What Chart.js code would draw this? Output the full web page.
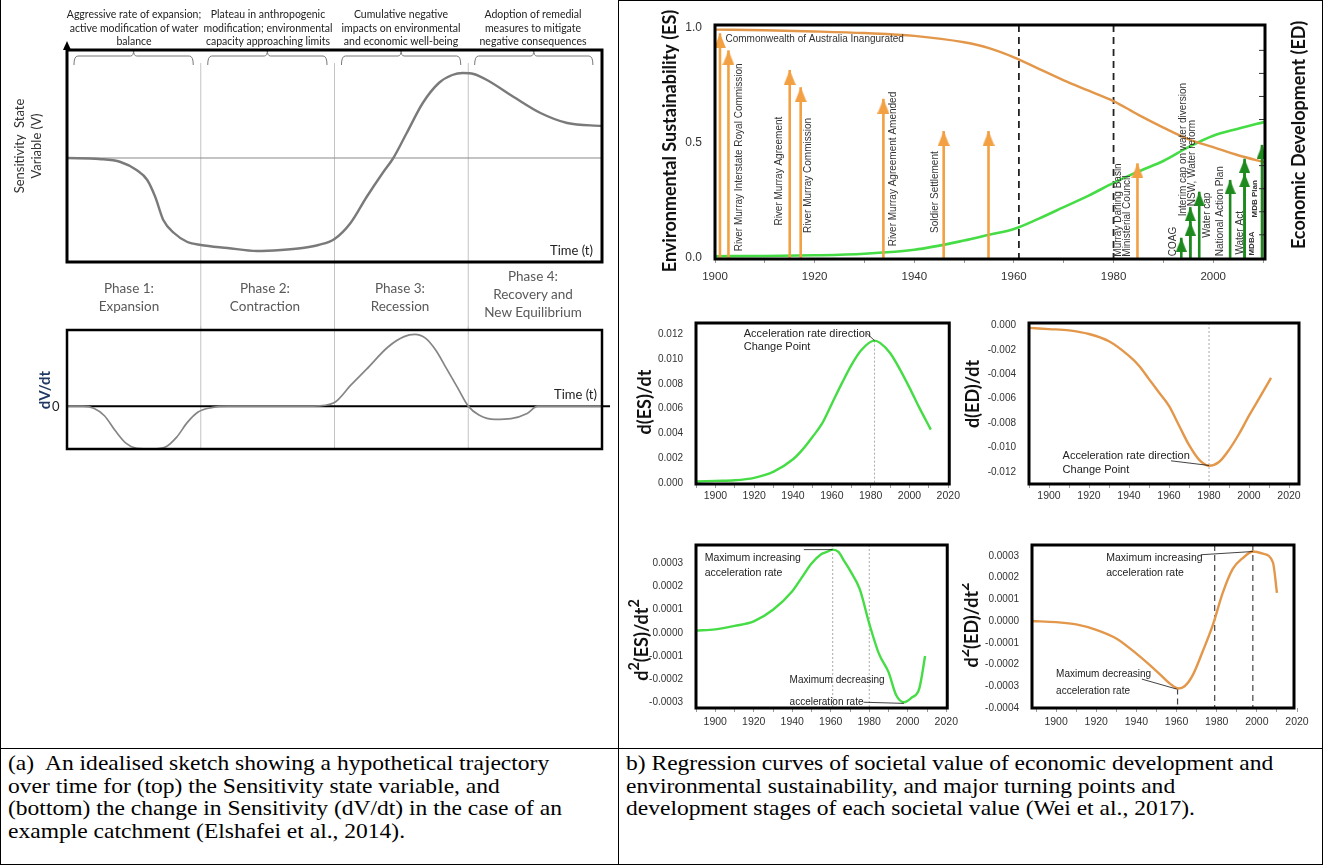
<!DOCTYPE html>
<html>
<head>
<meta charset="utf-8">
<script src="https://cdn.jsdelivr.net/npm/chart.js@4.4.1/dist/chart.umd.min.js"></script>
<style>
  html, body { margin: 0; padding: 0; background: #fff; }
  #page { position: relative; width: 1323px; height: 865px; overflow: hidden; font-family: Lato, "Open Sans", sans-serif; color: #222; }
  #page canvas { position: absolute; }
  .rule { position: absolute; background: #000; }
  .hd { position: absolute; top: 8px; width: 150px; text-align: center; font-size: 10.5px; line-height: 13.7px; color: #222; white-space: nowrap; }
  .ph { position: absolute; width: 130px; text-align: center; font-size: 13.5px; line-height: 18px; color: #595959; white-space: nowrap; }
  .cap { position: absolute; font-family: "Liberation Serif", "Times New Roman", serif; font-size: 21px; line-height: 22.5px; color: #000; white-space: nowrap; transform: scaleX(1.12); transform-origin: 0 0; }
  .lbl { position: absolute; white-space: nowrap; }
</style>
</head>
<body>
<div id="page">
  <canvas id="sketchV"></canvas>
  <canvas id="sketchDV"></canvas>
  <canvas id="trend"></canvas>
  <canvas id="rateES"></canvas>
  <canvas id="rateED"></canvas>
  <canvas id="accES"></canvas>
  <canvas id="accED"></canvas>

  <div class="hd" style="left:59px">Aggressive rate of expansion;<br>active modification of water<br>balance</div>
  <div class="hd" style="left:193px">Plateau in anthropogenic<br>modification; environmental<br>capacity approaching limits</div>
  <div class="hd" style="left:326px">Cumulative negative<br>impacts on environmental<br>and economic well-being</div>
  <div class="hd" style="left:458px">Adoption of remedial<br>measures to mitigate<br>negative consequences</div>

  <div class="ph" style="left:64px;top:279px">Phase 1:<br>Expansion</div>
  <div class="ph" style="left:200px;top:279px">Phase 2:<br>Contraction</div>
  <div class="ph" style="left:335px;top:279px">Phase 3:<br>Recession</div>
  <div class="ph" style="left:468px;top:267px">Phase 4:<br>Recovery and<br>New Equilibrium</div>

  <div class="lbl" style="left:28px;top:146px;transform:translate(-50%,-50%) rotate(-90deg);text-align:center;font-size:13px;line-height:17px;color:#333">Sensitivity&nbsp; State<br>Variable (V)</div>
  <div class="lbl" style="right:730px;top:242px;font-size:13px;line-height:16px;color:#222">Time (t)</div>
  <div class="lbl" style="right:726px;top:386px;font-size:13px;line-height:16px;color:#222">Time (t)</div>
  <div class="lbl" style="left:44px;top:390px;transform:translate(-50%,-50%) rotate(-90deg);font-size:15px;font-weight:bold;color:#1F3864">dV/dt</div>
  <div class="lbl" style="left:52px;top:398px;font-size:13px;line-height:16px;color:#222">0</div>

  <div class="cap" style="left:8px;top:752px"><span style="display:inline-block;width:33px">(a)</span>An idealised sketch showing a hypothetical trajectory<br>over time for (top) the Sensitivity state variable, and<br>(bottom) the change in Sensitivity (dV/dt) in the case of an<br>example catchment (Elshafei et al., 2014).</div>
  <div class="cap" style="left:626px;top:752px">b) Regression curves of societal value of economic development and<br>environmental sustainability, and major turning points and<br>development stages of each societal value (Wei et al., 2017).</div>

  <div class="rule" style="left:0;top:0;width:1px;height:865px"></div>
  <div class="rule" style="left:1322px;top:0;width:1px;height:865px"></div>
  <div class="rule" style="left:618px;top:0;width:1px;height:865px"></div>
  <div class="rule" style="left:618px;top:0;width:705px;height:1px"></div>
  <div class="rule" style="left:0;top:748px;width:1323px;height:1px"></div>
  <div class="rule" style="left:0;top:864px;width:1323px;height:1px"></div>
</div>

<script>
// ---- (a) idealised sketch, time given as % of the whole period ----
const phaseEdges = [25, 50, 75];
const sensT = [0, 6, 10, 13, 15, 16.5, 18, 20, 22.5, 25, 30, 35.5, 40, 44, 47, 50, 53, 56, 59, 61, 63.5, 66.5, 69.5, 72, 74, 76, 78.5, 83.5, 88.5, 93.5, 100];
const sensV = [0, -0.01, -0.04, -0.12, -0.22, -0.39, -0.62, -0.75, -0.84, -0.87, -0.9, -0.93, -0.92, -0.9, -0.87, -0.81, -0.65, -0.39, -0.15, 0, 0.25, 0.55, 0.75, 0.83, 0.85, 0.84, 0.78, 0.61, 0.45, 0.35, 0.32];
const rateT = [0, 3, 5, 7, 9, 11, 13, 16, 18.5, 20.5, 22.5, 24.5, 27, 30, 46, 50, 53, 56, 60, 63, 65, 67, 69, 71, 73, 75, 77, 80, 83, 86, 88, 100];
const rateV = [0, 0, -0.03, -0.13, -0.33, -0.5, -0.57, -0.58, -0.55, -0.42, -0.22, -0.08, -0.02, 0, 0, 0.05, 0.28, 0.5, 0.8, 0.94, 0.97, 0.92, 0.75, 0.5, 0.25, 0, -0.12, -0.18, -0.17, -0.1, 0, 0];

// ---- (b) ES / ED regression curves ----
const trendYears = [1900, 1910, 1920, 1930, 1940, 1950, 1955, 1960, 1965, 1970, 1975, 1980, 1985, 1990, 1995, 2000, 2005, 2010.4];
const edTrend = [0.99, 0.987, 0.982, 0.975, 0.963, 0.935, 0.91, 0.87, 0.82, 0.77, 0.725, 0.68, 0.62, 0.565, 0.515, 0.48, 0.445, 0.414];
const esTrend = [0.007, 0.008, 0.011, 0.018, 0.035, 0.075, 0.1, 0.125, 0.17, 0.22, 0.27, 0.325, 0.375, 0.42, 0.48, 0.53, 0.56, 0.59];
const trendDashYears = [1961, 1980];
const trendTicksX = [1900, 1910, 1920, 1930, 1940, 1950, 1960, 1970, 1980, 1990, 2000, 2010];
const trendTicksY = [0, 0.5, 1.0];
const trendMinorY = [0.1, 0.2, 0.3, 0.4, 0.6, 0.7, 0.8, 0.9];

const stateEventYears = [1901, 1902.7, 1915, 1917.2, 1933.8, 1945.9, 1954.9, 1984.8];
const stateEventTops = [0.974, 0.90, 0.815, 0.74, 0.69, 0.55, 0.55, 0.41];
const reformEventYears = [1993.6, 1995.4, 1995.4, 1997.2, 2003.4, 2006.3, 2006.3, 2009.8];
const reformEventTops = [0.087, 0.157, 0.22, 0.287, 0.338, 0.367, 0.43, 0.49];

const eventLabels = ['River Murray Interstate Royal Commission', 'River Murray Agreement', 'River Murray Commission',
  'River Murray Agreement Amended', 'Soldier Settlement', 'Murray Darling Basin', 'Ministerial Council', 'COAG',
  'Interim cap on water diversion', 'NSW, Water reform', 'Water cap', 'National Action Plan', 'Water Act', 'MDBA', 'MDB Plan'];
const eventLabelYears = [1904.8, 1912.9, 1918.8, 1935.7, 1944.3, 1981, 1982.8, 1992, 1993.9, 1995.8, 1998.8, 2001.4, 2005.4, 2007.7, 2008.4];
const eventLabelBase = [0.029, 0.14, 0.108, 0.05, 0.108, 0.005, 0.005, 0.007, 0.18, 0.224, 0.087, 0.007, 0.014, 0.01, 0.175];

// ---- first derivatives ----
const esRateYears = [1890, 1900, 1910, 1920, 1930, 1940, 1945, 1950, 1955, 1960, 1965, 1970, 1975, 1982, 1985, 1990, 1995, 2000, 2005, 2011];
const esRate = [0.0001, 0.00015, 0.0002, 0.0004, 0.0009, 0.0019, 0.0027, 0.0037, 0.0048, 0.0064, 0.008, 0.0095, 0.0107, 0.0115, 0.0113, 0.0105, 0.0092, 0.0077, 0.0061, 0.0043];
const edRateYears = [1890, 1900, 1910, 1920, 1930, 1940, 1945, 1950, 1955, 1960, 1965, 1970, 1975, 1980, 1985, 1990, 1995, 2000, 2005, 2011];
const edRate = [-0.0002, -0.0003, -0.0004, -0.0007, -0.0013, -0.0025, -0.0033, -0.0044, -0.0055, -0.0066, -0.0082, -0.0098, -0.011, -0.0115, -0.0112, -0.0102, -0.0089, -0.0074, -0.006, -0.0043];
const rateTicksX = [1890, 1900, 1910, 1920, 1930, 1940, 1950, 1960, 1970, 1980, 1990, 2000, 2010, 2020];
const esRateTicksY = [0, 0.002, 0.004, 0.006, 0.008, 0.010, 0.012];
const edRateTicksY = [0, -0.002, -0.004, -0.006, -0.008, -0.010, -0.012];

// ---- second derivatives ----
const esAccYears = [1890, 1900, 1910, 1920, 1930, 1940, 1945, 1950, 1955, 1958, 1961, 1964, 1967, 1970, 1975, 1980, 1985, 1990, 1994, 1998, 2002, 2006, 2009];
const esAcc = [0.00001, 0.000015, 0.00003, 0.00005, 0.0001, 0.00018, 0.00024, 0.0003, 0.00034, 0.00035, 0.00036, 0.00035, 0.00031, 0.00027, 0.00019, 0.00004, -0.00009, -0.00017, -0.00027, -0.0003, -0.00028, -0.00024, -0.0001];
const edAccYears = [1888, 1900, 1910, 1920, 1930, 1940, 1950, 1957, 1961, 1964, 1968, 1973, 1978, 1983, 1988, 1993, 1998, 2003, 2008, 2010];
const edAcc = [0, -0.000005, -0.000015, -0.00004, -0.00008, -0.00015, -0.00023, -0.00029, -0.00031, -0.0003, -0.00025, -0.00014, -0.00002, 0.00013, 0.00024, 0.00029, 0.00032, 0.00031, 0.00027, 0.00013];
const esAccTicksY = [0.0003, 0.0002, 0.0001, 0, -0.0001, -0.0002, -0.0003];
const edAccTicksY = [0.0003, 0.0002, 0.0001, 0, -0.0001, -0.0002, -0.0003, -0.0004];

const ES_GREEN = '#45DC45';
const ED_ORANGE = '#E3974A';
const ARROW_ORANGE = '#F2A042';
const ARROW_GREEN = '#1D8A1D';
const TICK_FONT = '"Liberation Sans", Arial, sans-serif';

Chart.defaults.font.family = TICK_FONT;
Chart.defaults.animation = false;
Chart.defaults.events = [];
Chart.defaults.plugins.legend.display = false;
Chart.defaults.plugins.tooltip.enabled = false;

function drawTitle(ctx, t) {
  ctx.save();
  ctx.translate(t.px, t.py);
  ctx.rotate(-Math.PI / 2);
  ctx.fillStyle = t.color || '#111';
  ctx.textBaseline = 'middle';
  ctx.textAlign = 'left';
  const fontOf = sup => (t.weight || 'bold') + ' ' + (sup ? t.size * 0.8 : t.size) + 'px Lato, sans-serif';
  let total = 0;
  t.segs.forEach(([s, sup]) => { ctx.font = fontOf(sup); total += ctx.measureText(s).width; });
  let cx = -total / 2;
  t.segs.forEach(([s, sup]) => {
    ctx.font = fontOf(sup);
    ctx.fillText(s, cx, sup ? -t.size * 0.4 : 0);
    cx += ctx.measureText(s).width;
  });
  ctx.restore();
}

// extra marks: reference lines, brackets, notes, axis titles, thick frame
const decor = {
  id: 'decor',
  beforeDatasetsDraw(chart, args, o) {
    const {ctx, chartArea: a, scales: {x, y}} = chart;
    ctx.save();
    (o.vlines || []).forEach(l => {
      const px = x.getPixelForValue(l.x);
      const top = l.y0 !== undefined ? y.getPixelForValue(l.y0) : (l.top !== undefined ? l.top : a.top);
      const bottom = l.y1 !== undefined ? y.getPixelForValue(l.y1) : (l.bottom !== undefined ? l.bottom : a.bottom);
      ctx.beginPath();
      ctx.strokeStyle = l.color;
      ctx.lineWidth = l.width || 1;
      ctx.setLineDash(l.dash || []);
      ctx.moveTo(px, top);
      ctx.lineTo(px, bottom);
      ctx.stroke();
    });
    ctx.restore();
  },
  afterDatasetsDraw(chart, args, o) {
    const {ctx, chartArea: a, scales: {x, y}} = chart;
    ctx.save();
    ctx.setLineDash([]);
    (o.leaders || []).forEach(s => {
      ctx.beginPath();
      ctx.strokeStyle = '#111';
      ctx.lineWidth = 0.8;
      ctx.moveTo(x.getPixelForValue(s[0]), y.getPixelForValue(s[1]));
      ctx.lineTo(x.getPixelForValue(s[2]), y.getPixelForValue(s[3]));
      ctx.stroke();
    });
    (o.brackets || []).forEach(b => {
      const x0 = x.getPixelForValue(b[0]), x1 = x.getPixelForValue(b[1]), xm = (x0 + x1) / 2;
      ctx.beginPath();
      ctx.strokeStyle = '#777';
      ctx.lineWidth = 1;
      ctx.moveTo(x0, 65);
      ctx.quadraticCurveTo(x0, 56, x0 + 4, 56);
      ctx.lineTo(xm - 3, 56);
      ctx.quadraticCurveTo(xm, 56, xm, 50);
      ctx.quadraticCurveTo(xm, 56, xm + 3, 56);
      ctx.lineTo(x1 - 4, 56);
      ctx.quadraticCurveTo(x1, 56, x1, 65);
      ctx.stroke();
    });
    if (o.axisArrow) {
      ctx.beginPath();
      ctx.fillStyle = '#000';
      ctx.moveTo(a.left, a.top - 9);
      ctx.lineTo(a.left + 4, a.top);
      ctx.lineTo(a.left - 4, a.top);
      ctx.closePath();
      ctx.fill();
    }
    (o.notes || []).forEach(t => {
      ctx.save();
      ctx.translate(x.getPixelForValue(t.x), y.getPixelForValue(t.y));
      if (t.rot) ctx.rotate(t.rot * Math.PI / 180);
      ctx.font = t.font;
      ctx.fillStyle = t.color || '#222';
      ctx.textAlign = 'left';
      ctx.textBaseline = 'middle';
      ctx.fillText(t.text, 0, 0);
      ctx.restore();
    });
    if (o.rightTicks) {
      ctx.beginPath();
      ctx.strokeStyle = '#333';
      ctx.lineWidth = 1;
      o.rightTicks.forEach(v => {
        const py = y.getPixelForValue(v);
        ctx.moveTo(a.right - 6, py);
        ctx.lineTo(a.right, py);
      });
      ctx.stroke();
    }
    (o.titles || []).forEach(t => drawTitle(ctx, t));
    if (o.frame) {
      ctx.lineWidth = o.frame;
      ctx.strokeStyle = '#000';
      ctx.strokeRect(a.left, a.top, a.width, a.height);
    }
    ctx.restore();
  }
};

function canvasAt(id, L, T, W, H) {
  const c = document.getElementById(id);
  c.width = W;
  c.height = H;
  c.style.left = L + 'px';
  c.style.top = T + 'px';
  return c;
}

function curve(xs, ys, color, width) {
  return {
    data: xs.map((v, i) => ({x: v, y: ys[i]})),
    borderColor: color,
    borderWidth: width,
    pointRadius: 0,
    cubicInterpolationMode: 'monotone',
    fill: false
  };
}

function headImage(color, w, h) {
  // apex sits at the image centre so the tip lands on the data value
  const c = document.createElement('canvas');
  c.width = w;
  c.height = h * 2;
  const g = c.getContext('2d');
  g.fillStyle = color;
  g.beginPath();
  g.moveTo(w / 2, h);
  g.lineTo(w, h * 2);
  g.lineTo(0, h * 2);
  g.closePath();
  g.fill();
  return c;
}

function arrows(years, tops, color, head) {
  return years.map((yr, i) => ({
    data: [{x: yr, y: 0}, {x: yr, y: tops[i]}],
    borderColor: color,
    borderWidth: 2.6,
    pointRadius: [0, 6],
    pointHoverRadius: 0,
    pointStyle: head
  }));
}

function xAxis(min, max, ticks, height, every, pad, size) {
  return {
    type: 'linear', min, max,
    afterBuildTicks: s => { s.ticks = ticks.map(v => ({value: v})); },
    afterFit: s => { s.height = height; },
    grid: {drawOnChartArea: false, drawTicks: true, tickLength: 4, color: '#999'},
    border: {display: false},
    ticks: {autoSkip: false, maxRotation: 0, padding: pad, color: '#333', font: {size: size || 10.5},
      callback: v => (v % every === 0 ? String(v) : '')}
  };
}

function yAxis(min, max, ticks, width, digits, size) {
  return {
    type: 'linear', min, max,
    afterBuildTicks: s => { s.ticks = ticks.map(v => ({value: v})); },
    afterFit: s => { s.width = width; },
    grid: {display: false},
    border: {display: false},
    ticks: {padding: 5, color: '#333', font: {size: size || 10}, callback: v => v.toFixed(digits)}
  };
}

function hiddenScales(xmin, xmax, ymin, ymax) {
  return {
    x: {type: 'linear', display: false, min: xmin, max: xmax},
    y: {type: 'linear', display: false, min: ymin, max: ymax}
  };
}

// ---------- (a) top: sensitivity state variable ----------
new Chart(canvasAt('sketchV', 0, 0, 618, 330), {
  type: 'line',
  data: {datasets: [
    curve(sensT, sensV, '#7a7a7a', 2.4),
    curve([0, 100], [0, 0], '#8a8a8a', 1.2)
  ]},
  options: {
    responsive: false,
    layout: {padding: {left: 67, top: 50, right: 16, bottom: 68}, autoPadding: false},
    scales: hiddenScales(0, 100, -1.04, 1.08),
    plugins: {decor: {
      vlines: phaseEdges.map(p => ({x: p, color: '#c4c4c4', width: 1, top: 63, bottom: 330})),
      brackets: [[1.3, 23.6], [26.3, 48.6], [51.3, 73.6], [76.2, 98.3]],
      axisArrow: true,
      frame: 3
    }}
  },
  plugins: [decor]
});

// ---------- (a) bottom: dV/dt ----------
const zeroLine = curve([0, 101.5], [0, 0], '#000', 2);
zeroLine.clip = false;
new Chart(canvasAt('sketchDV', 0, 326, 618, 130), {
  type: 'line',
  data: {datasets: [curve(rateT, rateV, '#858585', 1.7), zeroLine]},
  options: {
    responsive: false,
    layout: {padding: {left: 67, top: 4, right: 16, bottom: 7}, autoPadding: false},
    scales: hiddenScales(0, 100, -0.58, 1.03),
    plugins: {decor: {
      vlines: phaseEdges.map(p => ({x: p, color: '#c4c4c4', width: 1, top: 0})),
      frame: 2.5
    }}
  },
  plugins: [decor]
});

// ---------- (b) top: ES and ED with policy events ----------
const orangeHead = headImage(ARROW_ORANGE, 12, 15);
const greenHead = headImage(ARROW_GREEN, 11, 14);
const eventNotes = eventLabels.map((t, i) => ({
  text: t, x: eventLabelYears[i], y: eventLabelBase[i], rot: -90,
  font: (t.startsWith('MDB') ? 'bold 8px ' : '10px ') + TICK_FONT, color: '#333'
}));
eventNotes.push({text: 'Commonwealth of Australia Inangurated', x: 1902.1, y: 0.948, font: '10px ' + TICK_FONT, color: '#333'});

new Chart(canvasAt('trend', 618, 2, 702, 290), {
  type: 'line',
  data: {datasets: [
    ...arrows(stateEventYears, stateEventTops, ARROW_ORANGE, orangeHead),
    ...arrows(reformEventYears, reformEventTops, ARROW_GREEN, greenHead),
    curve(trendYears, edTrend, ED_ORANGE, 2.4),
    curve(trendYears, esTrend, ES_GREEN, 2.6)
  ]},
  options: {
    responsive: false,
    layout: {padding: {left: 0, top: 23, right: 55, bottom: 0}, autoPadding: false},
    scales: {
      x: xAxis(1900, 2010.4, trendTicksX, 33, 20, 7, 11.5),
      y: yAxis(-0.005, 1.01, trendTicksY, 97, 1, 12)
    },
    plugins: {decor: {
      vlines: trendDashYears.map(v => ({x: v, color: '#222', width: 1.8, dash: [7, 5]})),
      notes: eventNotes,
      rightTicks: trendMinorY,
      titles: [
        {segs: [['Environmental Sustainability (ES)', 0]], px: 52, py: 139, size: 18},
        {segs: [['Economic Development (ED)', 0]], px: 681, py: 133, size: 18}
      ],
      frame: 3
    }}
  },
  plugins: [decor]
});

// ---------- (b) middle: first derivatives ----------
const noteFont = '11px ' + TICK_FONT;
new Chart(canvasAt('rateES', 618, 300, 344, 210), {
  type: 'line',
  data: {datasets: [curve(esRateYears, esRate, ES_GREEN, 2.4)]},
  options: {
    responsive: false,
    layout: {padding: {left: 0, top: 23, right: 9, bottom: 0}, autoPadding: false},
    scales: {
      x: xAxis(1890, 2020.5, rateTicksX, 26, 20, 2),
      y: yAxis(-0.0001, 0.01293, esRateTicksY, 78, 3)
    },
    plugins: {decor: {
      vlines: [{x: 1982, y0: 0.0115, color: '#aaa', dash: [2, 2]}],
      notes: [
        {text: 'Acceleration rate direction', x: 1914.6, y: 0.01208, font: noteFont},
        {text: 'Change Point', x: 1914.6, y: 0.01101, font: noteFont}
      ],
      leaders: [[1978, 0.0121, 1982, 0.0115]],
      titles: [{segs: [['d(ES)/dt', 0]], px: 27, py: 102, size: 18}],
      frame: 3
    }}
  },
  plugins: [decor]
});

new Chart(canvasAt('rateED', 962, 300, 358, 210), {
  type: 'line',
  data: {datasets: [curve(edRateYears, edRate, ED_ORANGE, 2.4)]},
  options: {
    responsive: false,
    layout: {padding: {left: 0, top: 23, right: 21, bottom: 0}, autoPadding: false},
    scales: {
      x: xAxis(1890, 2025, rateTicksX, 26, 20, 2),
      y: yAxis(-0.013, 0.0002, edRateTicksY, 67, 3)
    },
    plugins: {decor: {
      vlines: [{x: 1980, color: '#aaa', dash: [2, 2]}],
      notes: [
        {text: 'Acceleration rate direction', x: 1906.8, y: -0.01068, font: noteFont},
        {text: 'Change Point', x: 1906.8, y: -0.01186, font: noteFont}
      ],
      leaders: [[1961, -0.0111, 1980, -0.01148]],
      titles: [{segs: [['d(ED)/dt', 0]], px: 11, py: 94, size: 18}],
      frame: 3
    }}
  },
  plugins: [decor]
});

// ---------- (b) bottom: second derivatives ----------
const smallFont = '10.5px ' + TICK_FONT;
new Chart(canvasAt('accES', 618, 520, 344, 215), {
  type: 'line',
  data: {datasets: [curve(esAccYears, esAcc, ES_GREEN, 2.4)]},
  options: {
    responsive: false,
    layout: {padding: {left: 0, top: 25, right: 9, bottom: 0}, autoPadding: false},
    scales: {
      x: xAxis(1890, 2020.5, rateTicksX, 27, 20, 4),
      y: yAxis(-0.000325, 0.00038, esAccTicksY, 78, 4)
    },
    plugins: {decor: {
      vlines: [{x: 1961, color: '#aaa', dash: [2, 2]}, {x: 1980, color: '#aaa', dash: [2, 2]}],
      notes: [
        {text: 'Maximum increasing', x: 1894.5, y: 0.000324, font: smallFont},
        {text: 'acceleration rate', x: 1894.5, y: 0.000259, font: smallFont},
        {text: 'Maximum decreasing', x: 1938.6, y: -0.000205, font: '10px ' + TICK_FONT},
        {text: 'acceleration rate', x: 1938.6, y: -0.0003, font: '10px ' + TICK_FONT}
      ],
      leaders: [[1946, 0.00036, 1961, 0.00036], [1977, -0.0003, 1998, -0.000305]],
      titles: [{segs: [['d', 0], ['2', 1], ['(ES)/dt', 0], ['2', 1]], px: 24, py: 120, size: 18}],
      frame: 3
    }}
  },
  plugins: [decor]
});

new Chart(canvasAt('accED', 962, 520, 358, 215), {
  type: 'line',
  data: {datasets: [curve(edAccYears, edAcc, ED_ORANGE, 2.4)]},
  options: {
    responsive: false,
    layout: {padding: {left: 0, top: 25, right: 26, bottom: 0}, autoPadding: false},
    scales: {
      x: xAxis(1888, 2018.5, rateTicksX, 27, 20, 4),
      y: yAxis(-0.0004, 0.00035, edAccTicksY, 70, 4)
    },
    plugins: {decor: {
      vlines: [
        {x: 1960.5, y0: -0.00031, color: '#444', width: 1.2, dash: [6, 4]},
        {x: 1979, color: '#444', width: 1.2, dash: [6, 4]},
        {x: 1998, color: '#444', width: 1.2, dash: [6, 4]}
      ],
      notes: [
        {text: 'Maximum increasing', x: 1925, y: 0.00029, font: smallFont},
        {text: 'acceleration rate', x: 1925, y: 0.00022, font: smallFont},
        {text: 'Maximum decreasing', x: 1900, y: -0.000244, font: '10px ' + TICK_FONT},
        {text: 'acceleration rate', x: 1900, y: -0.000322, font: '10px ' + TICK_FONT}
      ],
      leaders: [[1972, 0.000305, 1998, 0.00032], [1942.7, -0.000267, 1960.1, -0.000313]],
      titles: [{segs: [['d', 0], ['2', 1], ['(ED)/dt', 0], ['2', 1]], px: 10, py: 105, size: 18}],
      frame: 3
    }}
  },
  plugins: [decor]
});
</script>
</body>
</html>
